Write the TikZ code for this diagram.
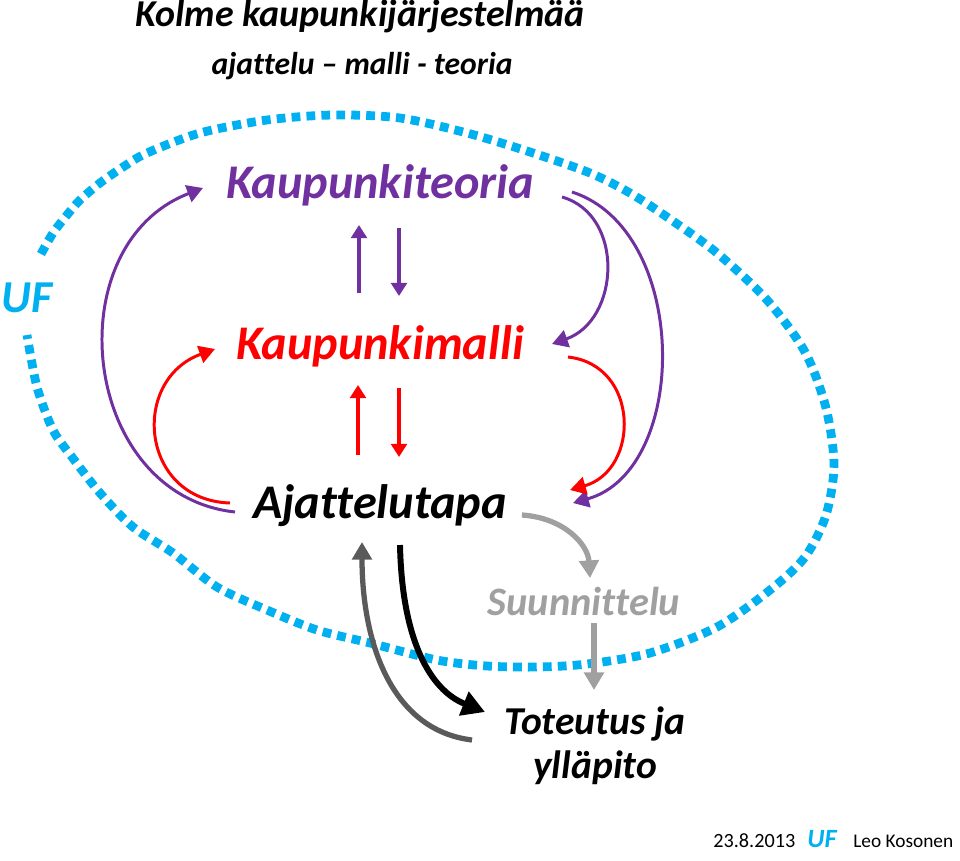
\documentclass[tikz,border=0pt]{standalone}
\usepackage{fontspec}
\setmainfont{Carlito}[Ligatures=NoCommon]
\usepackage{tikz}
\usetikzlibrary{positioning, arrows.meta, calc}
\definecolor{purp}{HTML}{7030A0}
\definecolor{rd}{HTML}{FF0000}
\definecolor{cyn}{HTML}{00B0F0}
\definecolor{lgray}{HTML}{A0A0A0}
\definecolor{dgray}{HTML}{5A5A5A}

\begin{document}
\begin{tikzpicture}[x=0.02cm, y=-0.02cm,
  lbl/.style={inner sep=0pt, anchor=base, font=\bfseries\itshape},
  thin arr/.style={line width=1.7pt, -{Triangle[length=9pt,width=10pt]}},
  vert arr/.style={line width=2.4pt, -{Triangle[length=7.5pt,width=9pt]}},
  fat arr/.style={line width=3pt, -{Triangle[length=10pt,width=11pt]}}]
  \useasboundingbox (0,0) rectangle (960,860);
  \draw[cyn, line width=5pt, dash pattern=on 5pt off 3.5pt]
    plot[smooth, tension=0.5] coordinates {(41,254) (53,233) (67,215) (80,200)
      (100,183) (123,167) (147,153) (200,133) (267,120) (333,115) (400,118)
      (467,133) (530,152) (590,173) (630,193) (667,217) (717,253) (767,300)
      (805,352) (826,408) (834,465) (826,515) (805,557) (770,590) (717,627)
      (650,653) (587,664) (537,667) (487,666) (437,660) (370,643) (317,630)
      (267,610) (217,587) (173,553) (133,527) (100,493) (72,457) (53,430)
      (37,387) (27,335)};
  \node[lbl, font=\fontsize{21.6}{24}\selectfont\bfseries\itshape] (title) at (360,26) {Kolme kaupunkijärjestelmää};
  \node[lbl, font=\fontsize{18}{20}\selectfont\bfseries\itshape] (sub) at (362,74) {ajattelu -- malli - teoria};
  \node[lbl, text=purp, font=\fontsize{27.5}{30}\selectfont\bfseries\itshape] (teoria) at (380,198) {Kaupunkiteoria};
  \node[lbl, text=rd, font=\fontsize{27.5}{30}\selectfont\bfseries\itshape] (malli) at (380,359) {Kaupunkimalli};
  \node[lbl, font=\fontsize{27.5}{30}\selectfont\bfseries\itshape] (tapa) at (380,518) {Ajattelutapa};
  \node[lbl, text=lgray, font=\fontsize{23}{26}\selectfont\bfseries\itshape] (suun) at (584,615) {Suunnittelu};
  \node[lbl, font=\fontsize{22.5}{25}\selectfont\bfseries\itshape, align=center, anchor=north] (tot) at (595,706) {Toteutus ja\\ylläpito};
  \node[lbl, text=cyn, font=\fontsize{26}{28}\selectfont\bfseries\itshape, anchor=base west] (uf) at (1,312) {UF};
  \node[lbl, font=\fontsize{11.5}{13}\selectfont, anchor=base west] (date) at (713,847) {23.8.2013};
  \node[lbl, text=cyn, font=\fontsize{15}{17}\selectfont\bfseries\itshape, anchor=base west] (uf2) at (807,847) {UF};
  \node[lbl, font=\fontsize{11}{13}\selectfont, anchor=base west] (name) at (853,847) {Leo Kosonen};
  \coordinate (teoUp) at (359,225);  \coordinate (teoDn) at (399,228);
  \coordinate (malUp) at (359,293);  \coordinate (malDn) at (399,296);
  \coordinate (malUp2) at (358,385); \coordinate (malDn2) at (399,388);
  \coordinate (tapUp) at (358,455);  \coordinate (tapDn) at (399,457);
  \coordinate (teoL) at (203,188);   \coordinate (tapL1) at (235,512);
  \coordinate (malL) at (215,349);   \coordinate (tapL2) at (230,503);
  \coordinate (teoR1) at (562,197);  \coordinate (malR1) at (552,344);
  \coordinate (teoR2) at (572,192);  \coordinate (tapR2) at (573,503);
  \coordinate (malR) at (568,357);   \coordinate (tapR1) at (570,490);
  \coordinate (tapS) at (522,515);   \coordinate (suunN) at (590,578);
  \coordinate (suunS) at (594,623);  \coordinate (totN) at (594,690);
  \coordinate (tapB) at (400,545);   \coordinate (totW) at (485,712);
  \coordinate (totB) at (472,740);   \coordinate (tapB2) at (362,542);
  \draw[vert arr, purp] (malUp) -- (teoUp);
  \draw[vert arr, purp] (teoDn) -- (malDn);
  \draw[vert arr, rd] (tapUp) -- (malUp2);
  \draw[vert arr, rd] (malDn2) -- (tapDn);
  \draw[thin arr, purp] (tapL1) .. controls (80,495) and (55,245) .. (teoL);
  \draw[thin arr, rd] (tapL2) .. controls (140,500) and (130,380) .. (malL);
  \draw[thin arr, purp] (teoR1) .. controls (625,215) and (620,320) .. (malR1);
  \draw[thin arr, purp] (teoR2) .. controls (690,230) and (690,470) .. (tapR2);
  \draw[thin arr, rd] (malR) .. controls (640,365) and (640,470) .. (tapR1);
  \draw[fat arr, lgray] (tapS) .. controls (565,518) and (588,545) .. (suunN);
  \draw[fat arr, lgray] (suunS) -- (totN);
  \draw[fat arr, black, line width=3.4pt, -{Triangle[length=13pt,width=14pt]}] (tapB) .. controls (402,640) and (430,690) .. (totW);
  \draw[fat arr, dgray] (totB) .. controls (390,730) and (362,640) .. (tapB2);
\end{tikzpicture}
\end{document}
